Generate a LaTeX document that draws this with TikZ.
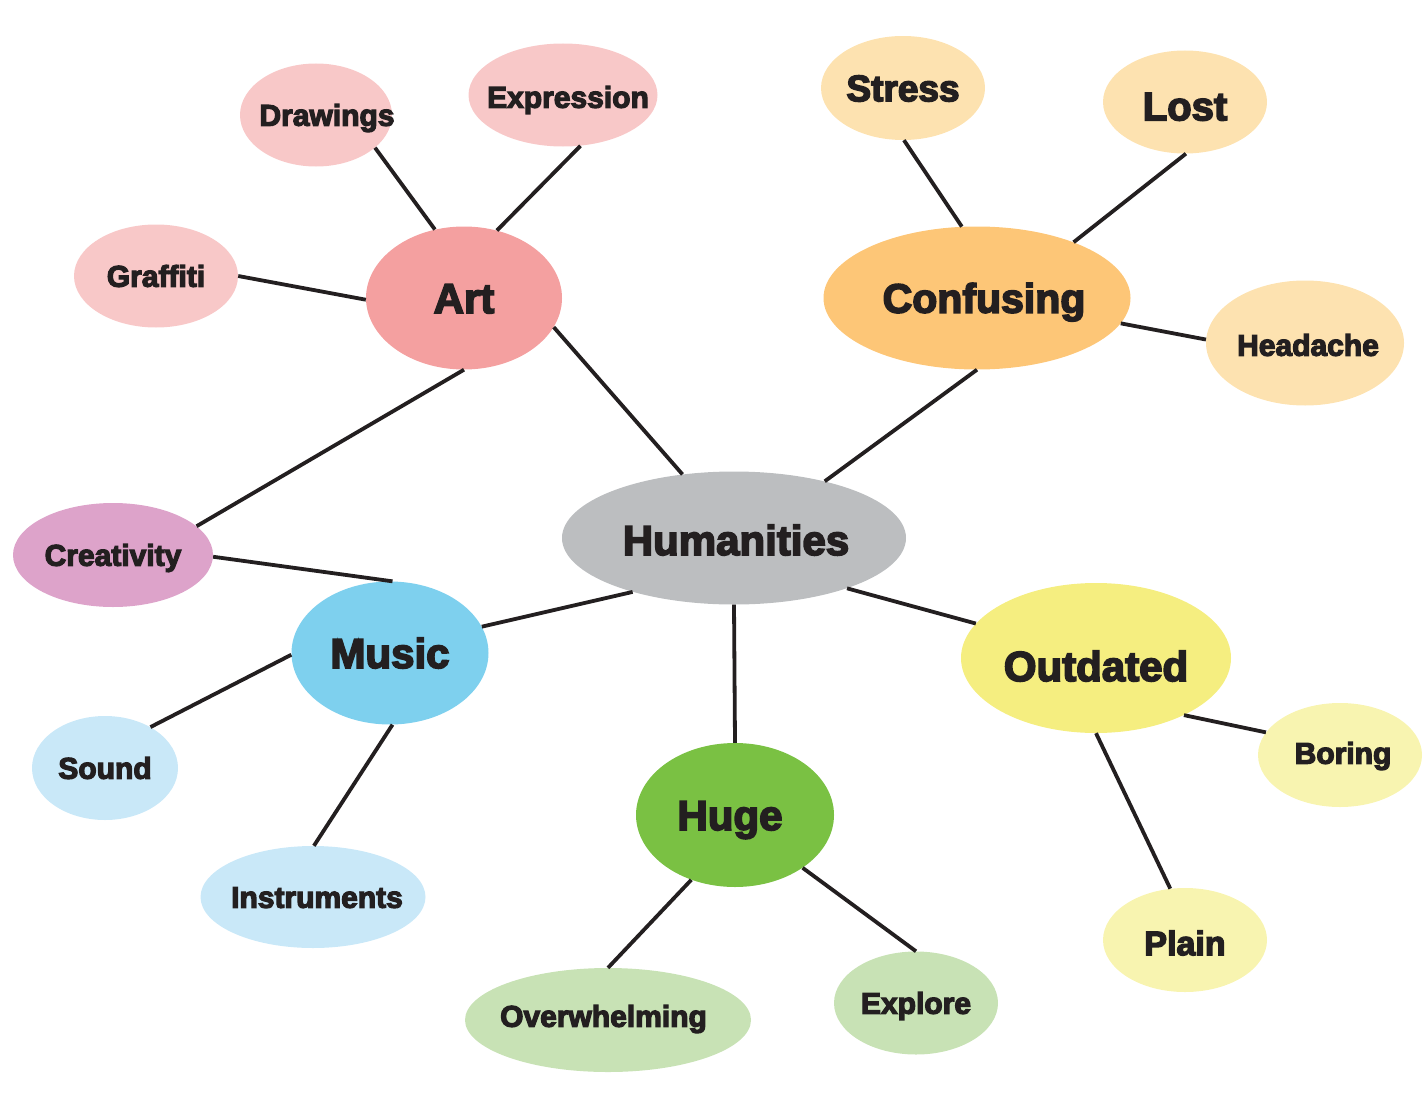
\documentclass[tikz,border=0pt]{standalone}
\usepackage{fontspec}
\setmainfont{Liberation Sans}
\newfontfamily\heavy{Liberation Sans}[UprightFont={* Bold}, FakeBold=4]
\usetikzlibrary{shapes.geometric}
\definecolor{txt}{HTML}{231F20}
\definecolor{cHum}{HTML}{BCBEC0}
\definecolor{cArt}{HTML}{F4A0A0}
\definecolor{cArtL}{HTML}{F8C8C8}
\definecolor{cCon}{HTML}{FDC677}
\definecolor{cConL}{HTML}{FDE2B0}
\definecolor{cMus}{HTML}{7ED0EE}
\definecolor{cMusL}{HTML}{C9E8F8}
\definecolor{cCre}{HTML}{DDA3CA}
\definecolor{cHug}{HTML}{7AC143}
\definecolor{cHugL}{HTML}{C8E2B5}
\definecolor{cOut}{HTML}{F5EE80}
\definecolor{cOutL}{HTML}{F8F4B0}
% text centred on its capital height, with optional extra drop
\newcommand{\zb}[2][0pt]{\makebox[0pt]{\raisebox{\dimexpr-0.358em-#1\relax}{#2}}}
\tikzset{
  bubble/.style n args={3}{ellipse, fill=#1, minimum width=#2pt, minimum height=#3pt,
    inner sep=0pt, text=txt, text height=0pt, text depth=0pt},
  big/.style={font=\heavy\fontsize{42}{42}\selectfont},
  small/.style={font=\heavy\fontsize{30}{30}\selectfont},
  link/.style={draw=txt, line width=3.8pt}
}
\begin{document}
\begin{tikzpicture}[x=1pt,y=-1pt]
\useasboundingbox (0,0) rectangle (1423,1113);
% main nodes
\node[bubble={cHum}{344}{133}, big] (hum) at (734,538) {\zb[2pt]{\hspace{4pt}Humanities}};
\node[bubble={cArt}{196}{143}, big] (art) at (464,298) {\zb{Art}};
\node[bubble={cCon}{307}{143}, font=\heavy\fontsize{41}{41}\selectfont] (con) at (977,298) {\zb{\hspace{14pt}Confusing}};
\node[bubble={cMus}{197}{143}, big] (mus) at (390,653) {\zb{Music}};
\node[bubble={cHug}{198}{144}, big] (hug) at (735,815) {\zb{Huge\hspace{10pt}}};
\node[bubble={cOut}{270}{150}, big] (out) at (1096,658) {\zb[8pt]{Outdated}};
% art children
\node[bubble={cCre}{200}{104}, small] (cre) at (113,555) {\zb{Creativity}};
\node[bubble={cArtL}{152}{103}, small] (dra) at (316,115) {\zb{\hspace{22pt}Drawings}};
\node[bubble={cArtL}{189}{103}, small] (exp) at (563,95) {\zb[2pt]{\hspace{10pt}Expression}};
\node[bubble={cArtL}{164}{103}, small] (gra) at (156,276) {\zb{Graffiti}};
% confusing children
\node[bubble={cConL}{164}{104}, font=\heavy\fontsize{37}{37}\selectfont] (str) at (903,88) {\zb{Stress}};
\node[bubble={cConL}{164}{103}, font=\heavy\fontsize{40}{40}\selectfont] (los) at (1185,102) {\zb[4pt]{Lost}};
\node[bubble={cConL}{198}{125}, small] (hea) at (1305,343) {\zb[2pt]{\hspace{6pt}Headache}};
% music children
\node[bubble={cMusL}{146}{104}, small] (sou) at (105,768) {\zb{Sound}};
\node[bubble={cMusL}{225}{102}, small] (ins) at (313,897) {\zb{\hspace{8pt}Instruments}};
% huge children
\node[bubble={cHugL}{286}{104}, small] (ove) at (608,1020) {\zb[-4pt]{Overwhelming\hspace{9pt}}};
\node[bubble={cHugL}{164}{103}, small] (exl) at (916,1003) {\zb{Explore}};
% outdated children
\node[bubble={cOutL}{164}{104}, small] (bor) at (1340,755) {\zb[-2pt]{\hspace{6pt}Boring}};
\node[bubble={cOutL}{164}{104}, font=\heavy\fontsize{34}{34}\selectfont] (pla) at (1185,940) {\zb[3pt]{Plain}};
% connectors
\draw[link] (art.-18.6) -- (hum.129.9);
\draw[link] (con.-90) -- (hum.32.3);
\draw[link] (mus.16.6) -- (hum.208.9);
\draw[link] (hum.270) -- (hug.90);
\draw[link] (hum.-24.5) -- (out.164.5);
\draw[link] (art.-90) -- (cre.19.9);
\draw[link] (cre.-1) -- (mus.88.4);
\draw[link] (art.113.6) -- (dra.-29.6);
\draw[link] (art.64.5) -- (exp.-71);
\draw[link] (art.181) -- (gra.0);
\draw[link] (con.102.7) -- (str.-89);
\draw[link] (con.30.3) -- (los.-89);
\draw[link] (con.-10.4) -- (hea.178);
\draw[link] (mus.181) -- (sou.42.3);
\draw[link] (mus.-88) -- (ins.89);
\draw[link] (hug.236.7) -- (ove.90);
\draw[link] (hug.-38.9) -- (exl.90);
\draw[link] (out.-33.1) -- (bor.163.6);
\draw[link] (out.-90) -- (pla.106.4);
\end{tikzpicture}
\end{document}
